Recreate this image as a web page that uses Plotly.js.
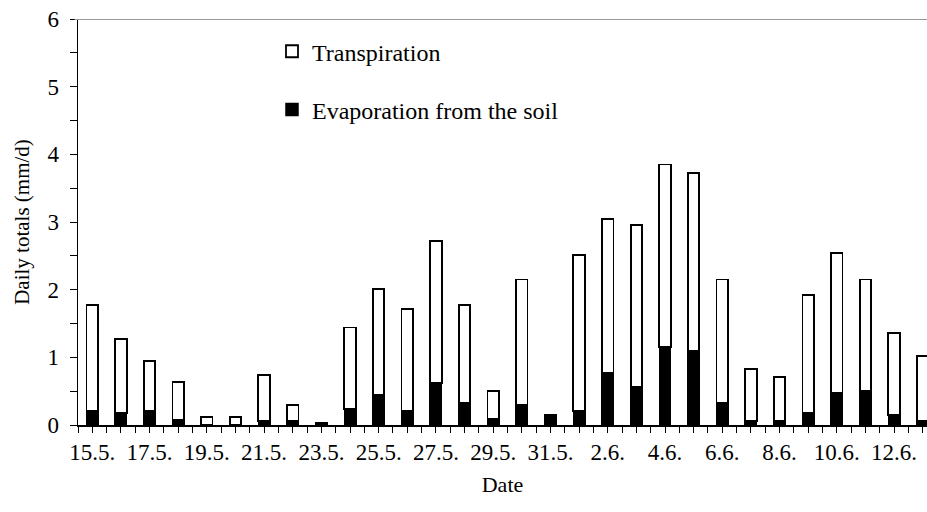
<!DOCTYPE html>
<html>
<head>
<meta charset="utf-8">
<script src="https://cdn.plot.ly/plotly-3.0.1.min.js"></script>
<style>html,body{margin:0;padding:0;overflow:hidden;background:#fff}</style>
</head>
<body>
<div id="chart" style="width:927px;height:512px"></div>
<script>
// Dates (one bar per day)
const dates = ["15.5.","16.5.","17.5.","18.5.","19.5.","20.5.","21.5.","22.5.","23.5.","24.5.",
               "25.5.","26.5.","27.5.","28.5.","29.5.","30.5.","31.5.","1.6.","2.6.","3.6.",
               "4.6.","5.6.","6.6.","7.6.","8.6.","9.6.","10.6.","11.6.","12.6.","13.6."];
// Evaporation from the soil (mm/d)
const evaporation = [0.21,0.18,0.21,0.08,0,0,0.06,0.06,0.03,0.24,
                     0.44,0.21,0.62,0.32,0.09,0.29,0.15,0.21,0.77,0.56,
                     1.15,1.10,0.32,0.06,0.06,0.18,0.48,0.50,0.15,0.06];
// Transpiration (mm/d), stacked on top of evaporation
const transpiration = [1.56,1.09,0.74,0.56,0.12,0.12,0.68,0.23,0,1.20,
                       1.57,1.50,2.10,1.45,0.41,1.86,0,2.30,2.27,2.39,
                       2.70,2.62,1.83,0.77,0.65,1.74,2.06,1.65,1.21,0.96];

const idx = dates.map((d, i) => i);
// tick every half day; label every second day
const tickvals = [], ticktext = [];
for (let i = 0; i < dates.length; i++) {
  tickvals.push(i - 0.5); ticktext.push("");
  tickvals.push(i); ticktext.push(i % 2 === 0 ? dates[i] : "");
}
tickvals.push(dates.length - 0.5); ticktext.push("");

const serif = "Liberation Serif";

const traces = [
  {
    type: "bar", name: "Evaporation from the soil", x: idx, y: evaporation,
    width: 0.4, legendgroup: "e", legendrank: 2,
    marker: {color: "#000", line: {color: "#000", width: 1.5}},
    hoverinfo: "y"
  },
  {
    type: "bar", name: "Transpiration", x: idx, y: transpiration,
    width: 0.4, legendgroup: "t", legendrank: 1,
    marker: {color: "#fff", line: {color: "#000", width: 1.8}},
    hoverinfo: "y"
  }
];

const layout = {
  width: 927, height: 512,
  margin: {l: 78, r: 0, t: 19, b: 87},
  barmode: "stack",
  paper_bgcolor: "#fff", plot_bgcolor: "#fff",
  font: {family: serif, color: "#000", size: 20},
  showlegend: true,
  legend: {
    x: 0.2285, xanchor: "left", y: 0.975, yanchor: "top",
    traceorder: "grouped", tracegroupgap: 24,
    font: {family: serif, size: 24, color: "#000"},
    bgcolor: "rgba(0,0,0,0)"
  },
  xaxis: {
    type: "linear", range: [-0.5, 29.15],
    tickmode: "array", tickvals: tickvals, ticktext: ticktext,
    ticks: "outside", ticklen: 6, tickwidth: 1, tickcolor: "#000",
    showline: true, linecolor: "#000", linewidth: 1.5,
    showgrid: false, zeroline: false,
    tickfont: {family: serif, size: 23, color: "#000"},
    title: {text: "Date", font: {family: serif, size: 22, color: "#000"}, standoff: 12}
  },
  yaxis: {
    range: [0, 6], dtick: 1, tick0: 0,
    ticks: "outside", ticklen: 7, tickwidth: 1, tickcolor: "#000",
    minor: {dtick: 0.5, ticks: "outside", ticklen: 7, tickwidth: 1, tickcolor: "#000", showgrid: false},
    showline: true, linecolor: "#000", linewidth: 1.5,
    showgrid: false, zeroline: false,
    ticklabelstandoff: 6,
    tickfont: {family: serif, size: 23, color: "#000"},
    title: {text: "Daily totals (mm/d)", font: {family: serif, size: 21, color: "#000"}, standoff: 12}
  },
  shapes: [{
    type: "line", xref: "paper", yref: "y", x0: -0.004, x1: 1, y0: 6, y1: 6,
    line: {color: "#999", width: 2}
  }]
};

Plotly.newPlot("chart", traces, layout, {displayModeBar: false, staticPlot: true});
</script>
</body>
</html>
